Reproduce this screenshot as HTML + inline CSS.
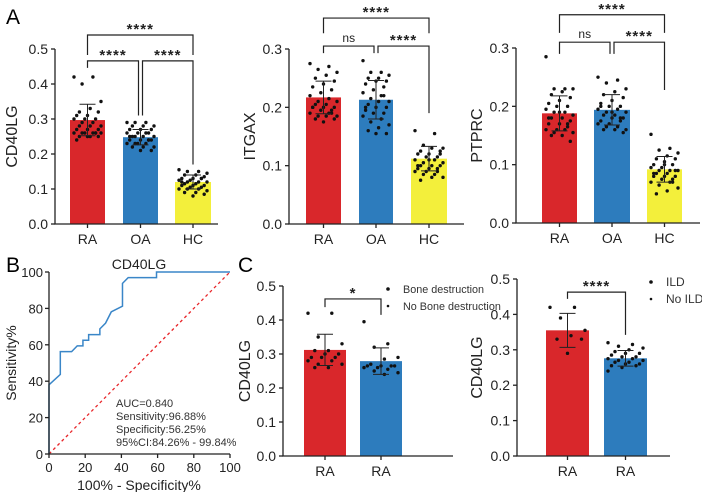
<!DOCTYPE html>
<html><head><meta charset="utf-8"><style>
html,body{margin:0;padding:0;background:#fff;}
svg{display:block;font-family:"Liberation Sans",Arial,sans-serif;}
</style></head><body>
<svg id="fig" width="702" height="492" viewBox="0 0 702 492" xmlns="http://www.w3.org/2000/svg">
<text x="6" y="24" font-size="21">A</text>
<text x="6" y="272" font-size="21">B</text>
<text x="238" y="272" font-size="21">C</text>
</svg>
<script>
// ---- data ----
const a1Categories = ["RA","OA","HC"];
const a1Means = [0.297, 0.248, 0.120];
const a1Sd = [0.045, 0.022, 0.020];
const a1RA = [0.42,0.42,0.40,0.35,0.33,0.32,0.32,0.31,0.31,0.30,0.30,0.30,0.29,0.29,0.28,0.28,0.28,0.27,0.27,0.27,0.26,0.26,0.26,0.26,0.26,0.26,0.25,0.25,0.25,0.25,0.24,0.26];
const a1OA = [0.29,0.29,0.29,0.28,0.28,0.28,0.27,0.27,0.27,0.26,0.26,0.26,0.26,0.25,0.25,0.25,0.25,0.24,0.24,0.24,0.24,0.23,0.23,0.23,0.23,0.22,0.22,0.22,0.21,0.21,0.25,0.24];
const a1HC = [0.155,0.15,0.15,0.145,0.14,0.14,0.135,0.13,0.13,0.13,0.125,0.125,0.12,0.12,0.12,0.115,0.115,0.11,0.11,0.11,0.105,0.105,0.10,0.10,0.10,0.095,0.09,0.09,0.085,0.08,0.12,0.13];
const a1Ticks = ["0.0","0.1","0.2","0.3","0.4","0.5"];

const a2Means = [0.217, 0.213, 0.112];
const a2Sd = [0.028, 0.033, 0.021];
const a2RA = [0.275,0.27,0.265,0.26,0.255,0.25,0.245,0.24,0.235,0.23,0.225,0.22,0.215,0.21,0.21,0.205,0.205,0.20,0.20,0.20,0.195,0.195,0.19,0.19,0.185,0.185,0.185,0.18,0.18,0.175,0.2,0.19];
const a2OA = [0.28,0.26,0.26,0.255,0.25,0.25,0.245,0.245,0.24,0.235,0.23,0.225,0.22,0.215,0.21,0.21,0.205,0.20,0.20,0.195,0.19,0.19,0.185,0.18,0.175,0.17,0.165,0.16,0.155,0.155,0.2,0.22];
const a2HC = [0.16,0.155,0.135,0.13,0.13,0.125,0.125,0.12,0.12,0.115,0.115,0.11,0.11,0.105,0.105,0.10,0.10,0.10,0.095,0.095,0.09,0.09,0.09,0.085,0.085,0.08,0.08,0.075,0.12,0.11,0.1,0.095];
const a2Ticks = ["0.0","0.1","0.2","0.3"];

const a3Means = [0.188, 0.194, 0.092];
const a3Sd = [0.030, 0.026, 0.022];
const a3RA = [0.285,0.23,0.23,0.23,0.225,0.22,0.215,0.21,0.205,0.20,0.20,0.195,0.19,0.19,0.185,0.18,0.18,0.175,0.17,0.17,0.165,0.16,0.16,0.16,0.155,0.155,0.15,0.15,0.14,0.19,0.18,0.17];
const a3OA = [0.25,0.245,0.24,0.23,0.225,0.22,0.215,0.21,0.205,0.20,0.20,0.195,0.195,0.19,0.19,0.185,0.185,0.18,0.18,0.175,0.175,0.17,0.17,0.165,0.165,0.16,0.16,0.16,0.155,0.19,0.2,0.18];
const a3HC = [0.152,0.128,0.125,0.12,0.115,0.11,0.11,0.105,0.10,0.10,0.095,0.095,0.09,0.09,0.09,0.085,0.085,0.08,0.08,0.08,0.075,0.075,0.07,0.07,0.065,0.06,0.055,0.05,0.09,0.1,0.085,0.07];

const rocX = [0,0,6.25,6.25,12.5,15.6,18.75,18.75,21.9,21.9,28.1,28.1,31.25,34.4,40.6,40.6,43.75,59.4,59.4,100];
const rocY = [0,38,43.75,56.25,56.25,59.4,59.4,62.5,62.5,65.6,65.6,68.75,71.9,78.1,81.25,93.75,96.9,96.9,100,100];
const rocTicks = [0,20,40,60,80,100];
const rocStats = ["AUC=0.840","Sensitivity:96.88%","Specificity:56.25%","95%CI:84.26% - 99.84%"];

const c1Categories = ["RA","RA"];
const c1Means = [0.312, 0.279];
const c1Sd = [0.046, 0.039];
const c1Bone = [0.42,0.42,0.35,0.33,0.31,0.31,0.30,0.30,0.29,0.29,0.29,0.28,0.28,0.27,0.27,0.26,0.26];
const c1NoBone = [0.395,0.33,0.32,0.29,0.285,0.27,0.265,0.265,0.265,0.265,0.26,0.26,0.255,0.25,0.245,0.24];
const c2Means = [0.355, 0.276];
const c2Sd = [0.048, 0.022];
const c2ILD = [0.42,0.42,0.39,0.355,0.34,0.33,0.33,0.29];
const c2NoILD = [0.32,0.315,0.31,0.305,0.30,0.295,0.29,0.29,0.285,0.28,0.28,0.275,0.275,0.27,0.27,0.265,0.265,0.26,0.26,0.255,0.255,0.25,0.24];
const cTicks = ["0.0","0.1","0.2","0.3","0.4","0.5"];

const RED="#d9272b", BLUE="#2d7cbd", YEL="#f3ef3b";
const svg = document.getElementById('fig');
const NS="http://www.w3.org/2000/svg";
function mk(tag, attrs, parent){const e=document.createElementNS(NS,tag);for(const k in attrs)e.setAttribute(k,attrs[k]);(parent||svg).appendChild(e);return e;}
function txt(s, attrs, parent){const e=mk('text',attrs,parent);e.textContent=s;return e;}

function barPanel(cfg){
  const g=mk('g',{});
  
  
  const ys=v=>cfg.y0-(v/cfg.max)*(cfg.y0-cfg.yTop);
  cfg.means.forEach((m,i)=>{
    const [l,r]=cfg.bx[i];
    const b=mk('rect',{x:l,y:ys(m),width:r-l,height:cfg.y0-ys(m),fill:cfg.colors[i]},g);
    
    
  });
  cfg.points.forEach((pts,i)=>{
    const [l,r]=cfg.bx[i]; const c=(l+r)/2, hw=(r-l)/2-4;
    pts.forEach((v,j)=>{
      const off=(((j*7)%11)-5)/5*hw;
      const d=mk('circle',{cx:c+off,cy:ys(v),r:1.7,fill:'#111'},g);
      
      
    });
  });
  cfg.means.forEach((m,i)=>{
    const [l,r]=cfg.bx[i]; const c=(l+r)/2, s=cfg.sd[i];
    mk('path',{d:`M${c} ${ys(m-s)}V${ys(m+s)}M${c-8} ${ys(m+s)}H${c+8}M${c-8} ${ys(m-s)}H${c+8}`,stroke:'#222','stroke-width':1,fill:'none'},g);
  });
  const ax=mk('path',{d:`M${cfg.ax} ${cfg.yTop}V${cfg.y0}H${cfg.axEnd}`,stroke:'#222','stroke-width':1.3,fill:'none'},g);
  
  
  cfg.ticks.forEach(t=>{
    const y=ys(parseFloat(t));
    mk('line',{x1:cfg.ax-4,x2:cfg.ax,y1:y,y2:y,stroke:'#222','stroke-width':1.3},g);
    const tl=txt(t,{x:cfg.ax-7,y:y+5,'font-size':14,'text-anchor':'end',fill:'#222'},g);
    
    
  });
  cfg.cats.forEach((c,i)=>{
    const [l,r]=cfg.bx[i]; const x=(l+r)/2;
    mk('line',{x1:x,x2:x,y1:cfg.y0,y2:cfg.y0+4,stroke:'#222','stroke-width':1.3},g);
    const tl=txt(c,{x:x,y:cfg.y0+20,'font-size':14,'text-anchor':'middle',fill:'#222'},g);
    
    
  });
  const ty=(cfg.yTop+cfg.y0)/2, tx=cfg.ax-cfg.tOff;
  const yt=txt(cfg.ytitle,{x:tx,y:ty,'font-size':16,'text-anchor':'middle',fill:'#222',transform:`rotate(-90 ${tx} ${ty})`},g);
  
  
  cfg.brackets.forEach(b=>{
    const x1=(cfg.bx[b[0]][0]+cfg.bx[b[0]][1])/2+(b[6]||0), x2=(cfg.bx[b[1]][0]+cfg.bx[b[1]][1])/2+(b[7]||0);
    mk('path',{d:`M${x1} ${ys(b[3])}V${ys(b[2])}H${x2}V${ys(b[4])}`,stroke:'#222','stroke-width':1.2,fill:'none'},g);
    const ns=b[5]==='ns';
    const bl=txt(b[5],{x:(x1+x2)/2,y:ys(b[2])-(ns?4:1),'font-size':ns?12:15,'font-weight':ns?'normal':'bold','text-anchor':'middle',fill:'#222','letter-spacing':ns?0:1},g);
    
    
  });
  return g;
}

barPanel({name:'cd40lg-panel',ax:55,axEnd:218,y0:224,yTop:49,max:0.5,tOff:38,bx:[[70,105],[123,158],[175,211]],colors:[RED,BLUE,YEL],
  means:a1Means,sd:a1Sd,points:[a1RA,a1OA,a1HC],cats:a1Categories,ticks:a1Ticks,ytitle:'CD40LG',
  brackets:[[0,1,0.466,0.446,0.31,'****',0,-2],[1,2,0.466,0.31,0.17,'****',2,0],[0,2,0.54,0.483,0.483,'****']]});
barPanel({name:'itgax-panel',ax:289,axEnd:464,y0:224,yTop:49,max:0.3,tOff:34,bx:[[306,341],[359,393],[411,447]],colors:[RED,BLUE,YEL],
  means:a2Means,sd:a2Sd,points:[a2RA,a2OA,a2HC],cats:a1Categories,ticks:a2Ticks,ytitle:'ITGAX',
  brackets:[[0,1,0.305,0.293,0.293,'ns',0,-2],[1,2,0.305,0.293,0.19,'****',2,0],[0,2,0.353,0.327,0.327,'****']]});
barPanel({name:'ptprc-panel',ax:516,axEnd:700,y0:223,yTop:48,max:0.3,tOff:34,bx:[[542,577],[594,630],[647,682]],colors:[RED,BLUE,YEL],
  means:a3Means,sd:a3Sd,points:[a3RA,a3OA,a3HC],cats:a1Categories,ticks:a2Ticks,ytitle:'PTPRC',
  brackets:[[0,1,0.31,0.29,0.29,'ns',0,-2],[1,2,0.31,0.29,0.228,'****',2,0],[0,2,0.357,0.326,0.326,'****']]});
barPanel({name:'bone-destruction-panel',ax:283,axEnd:453,y0:456,yTop:286,max:0.5,tOff:33,bx:[[304,346],[360,402]],colors:[RED,BLUE],
  means:c1Means,sd:c1Sd,points:[c1Bone,c1NoBone],cats:c1Categories,ticks:cTicks,ytitle:'CD40LG',
  brackets:[[0,1,0.462,0.438,0.415,'*']]});
barPanel({name:'ild-panel',ax:517,axEnd:670,y0:456,yTop:279,max:0.5,tOff:35,bx:[[546,589],[604,647]],colors:[RED,BLUE],
  means:c2Means,sd:c2Sd,points:[c2ILD,c2NoILD],cats:c1Categories,ticks:cTicks,ytitle:'CD40LG',
  brackets:[[0,1,0.463,0.444,0.342,'****']]});

function legend(x,y,items,fs){
  items.forEach((s,i)=>{
    const g=mk('g',{});
    
    
    mk('circle',{cx:x,cy:y+i*17-4,r:i?1.3:1.8,fill:'#111'},g);
    txt(s,{x:x+15,y:y+i*17,'font-size':fs,fill:'#333'},g);
  });
}
legend(388,293,["Bone destruction","No Bone destruction"],10.8);
legend(651,286,["ILD","No ILD"],12);

(function(){
  const g=mk('g',{});
  
  
  const X0=49,X1=230,Y0=454,Y1=272;
  const sx=v=>X0+v/100*(X1-X0), sy=v=>Y0-v/100*(Y0-Y1);
  mk('line',{x1:sx(0),y1:sy(0),x2:sx(100),y2:sy(100),stroke:'#e8262a','stroke-width':1.3,'stroke-dasharray':'3,3'},g);
  let d='';
  rocX.forEach((v,i)=>{d+=(i?'L':'M')+sx(v)+' '+sy(rocY[i]);});
  const c=mk('path',{d:d,stroke:'#3a86c8','stroke-width':1.5,fill:'none'},g);
  
  
  mk('path',{d:`M${X0} ${Y1}V${Y0}H${X1}`,stroke:'#222','stroke-width':1.3,fill:'none'},g);
  rocTicks.forEach(t=>{
    mk('line',{x1:X0-4,x2:X0,y1:sy(t),y2:sy(t),stroke:'#222','stroke-width':1.3},g);
    const yl=txt(String(t),{x:X0-6,y:sy(t)+5,'font-size':13,'text-anchor':'end',fill:'#222'},g);
    
    
    mk('line',{x1:sx(t),x2:sx(t),y1:Y0,y2:Y0+4,stroke:'#222','stroke-width':1.3},g);
    const xl=txt(String(t),{x:sx(t),y:Y0+18,'font-size':13,'text-anchor':'middle',fill:'#222'},g);
    
    
  });
  const tt=txt('CD40LG',{x:139,y:269,'font-size':14,'text-anchor':'middle',fill:'#222'},g);
  
  
  const xt=txt('100% - Specificity%',{x:139,y:490,'font-size':14,'text-anchor':'middle',fill:'#222'},g);
  
  
  const yt=txt('Sensitivity%',{x:16,y:363,'font-size':14,'text-anchor':'middle',fill:'#222',transform:'rotate(-90 16 363)'},g);
  
  
  rocStats.forEach((s,i)=>{
    const st=txt(s,{x:116,y:407+i*13,'font-size':11,fill:'#333'},g);
    
    
  });
})();
</script>
</body></html>
